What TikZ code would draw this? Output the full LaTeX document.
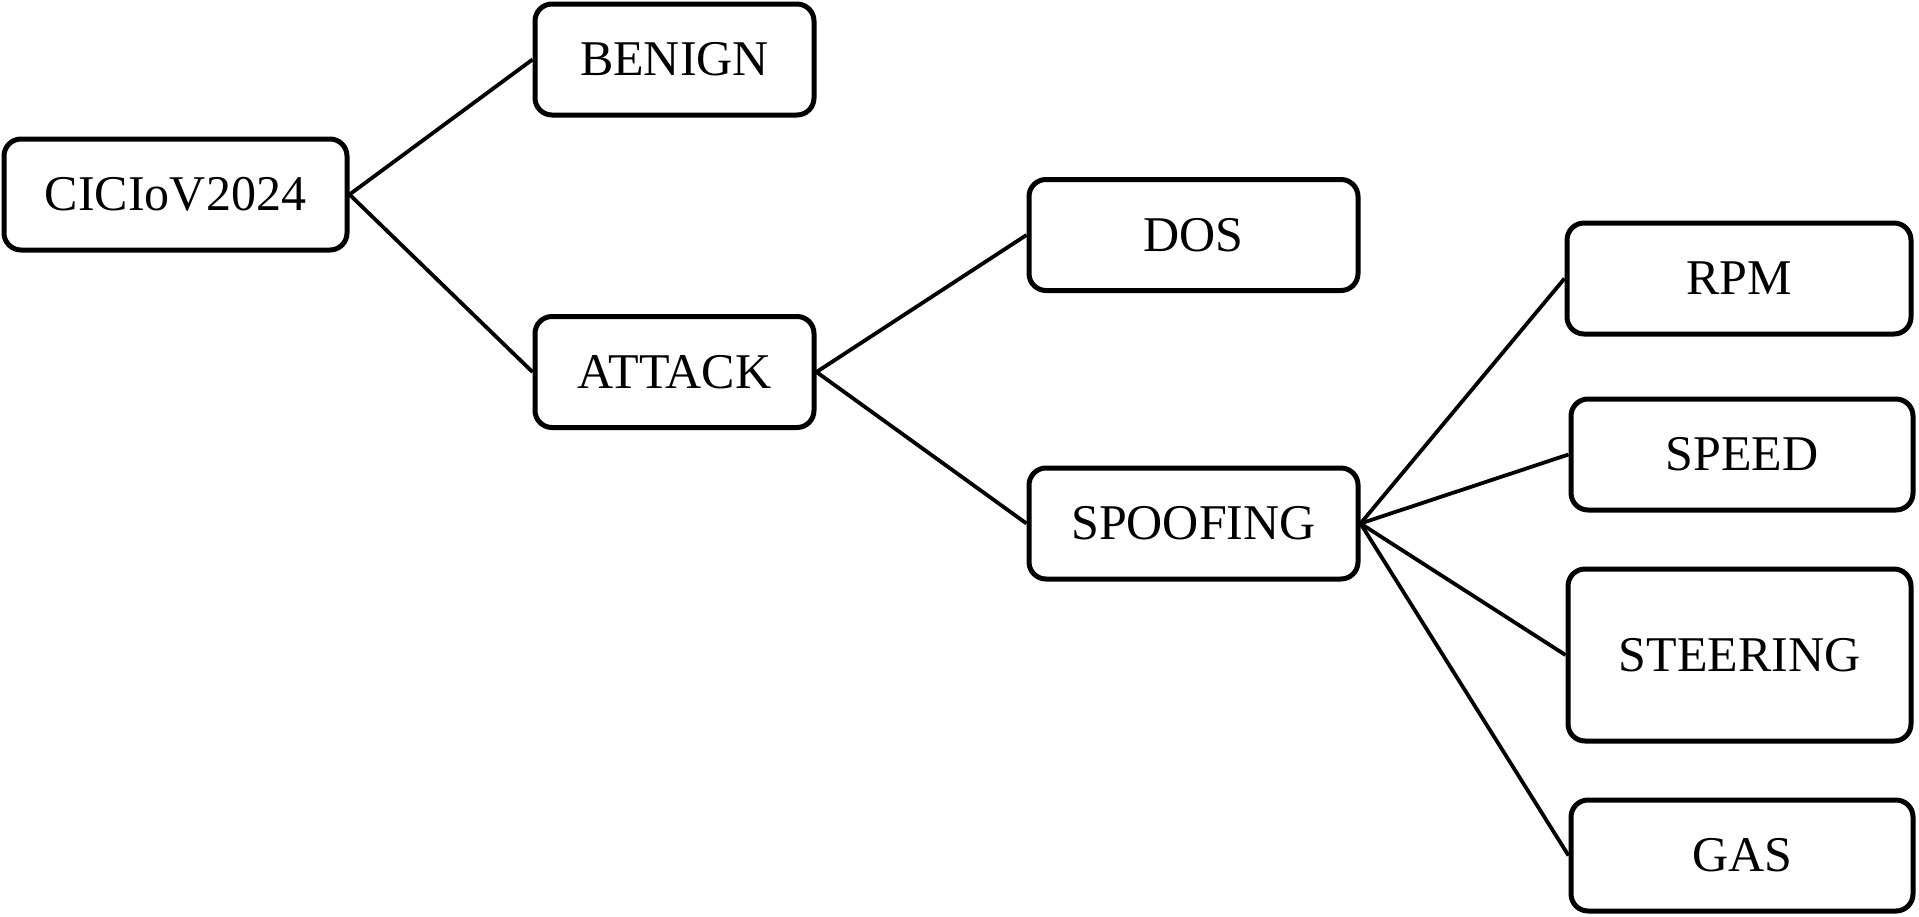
\documentclass[tikz,border=0pt]{standalone}
\usepackage{fontspec}
\setmainfont{Liberation Serif}
\begin{document}
\begin{tikzpicture}[x=1pt,y=-1pt,
  box/.style={draw=black, line width=5pt, rounded corners=17pt, fill=white,
    minimum width=#1, minimum height=111pt, inner sep=0pt,
    font=\fontsize{50}{60}\selectfont},
  box/.default=340pt,
  link/.style={draw=black, line width=3.8pt}]
\useasboundingbox (0,0) rectangle (1919,916);
\node[box=343pt] (cic) at (175.5,194.5) {CICIoV2024};
\node[box=279pt] (benign) at (674.5,59.5) {BENIGN};
\node[box=279pt] (attack) at (674.5,372) {ATTACK};
\node[box=329pt] (dos) at (1193.5,235) {DOS};
\node[box=329pt] (spoof) at (1193.5,523.5) {SPOOFING};
\node[box=344pt] (rpm) at (1739,278.5) {RPM};
\node[box=342pt] (speed) at (1742,454.5) {SPEED};
\node[box=343pt, minimum height=172pt] (steer) at (1739.5,655) {STEERING};
\node[box=342pt] (gas) at (1742,855.5) {GAS};
\draw[link] (cic.east) -- (benign.west);
\draw[link] (cic.east) -- (attack.west);
\draw[link] (attack.east) -- (dos.west);
\draw[link] (attack.east) -- (spoof.west);
\draw[link] (spoof.east) -- (rpm.west);
\draw[link] (spoof.east) -- (speed.west);
\draw[link] (spoof.east) -- (steer.west);
\draw[link] (spoof.east) -- (gas.west);
\end{tikzpicture}
\end{document}
